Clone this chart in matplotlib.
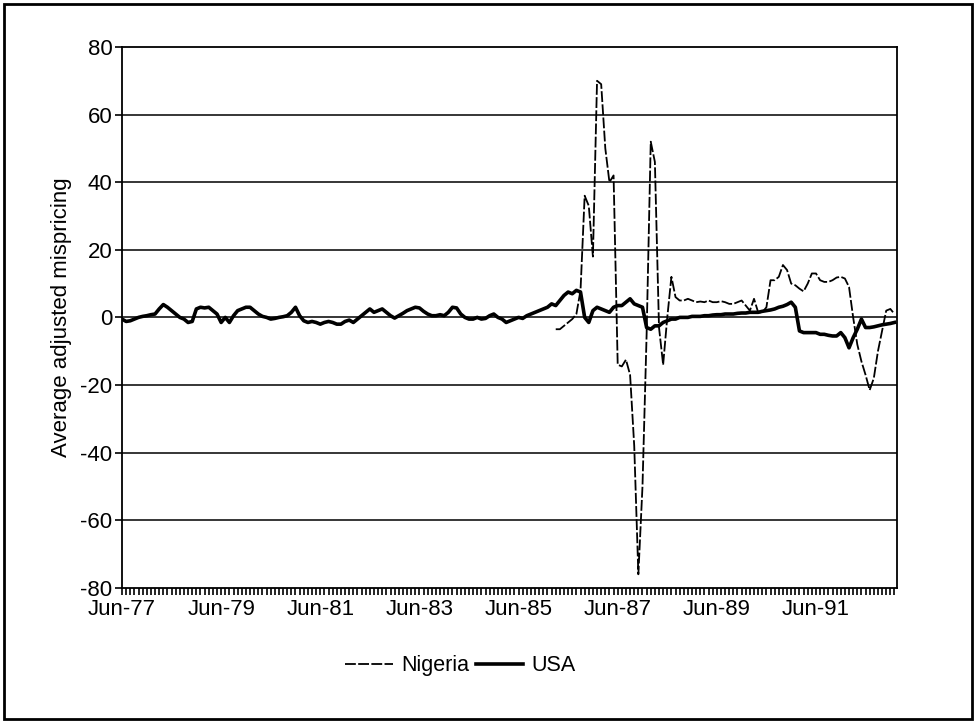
import numpy as np
import matplotlib.pyplot as plt
from matplotlib.ticker import MultipleLocator, FixedLocator
from matplotlib.patches import Rectangle

plt.rcParams['font.family'] = ['Liberation Sans', 'DejaVu Sans']

# monthly observations, Jun-77 .. Jan-93
tick_labels = ['Jun-77', 'Jun-79', 'Jun-81', 'Jun-83', 'Jun-85', 'Jun-87', 'Jun-89', 'Jun-91']
y_ticks = [-80, -60, -40, -20, 0, 20, 40, 60, 80]

usa = [
    -0.5, -1.2, -1, -0.5, 0, 0.3, 0.5, 0.8, 1, 2.5, 3.8, 3,
    2, 1, 0, -0.5, -1.5, -1.2, 2.5, 3, 2.8, 3, 2, 1,
    -1.5, 0, -1.5, 0.5, 2, 2.5, 3, 3, 2, 1, 0.3, 0,
    -0.5, -0.3, 0, 0.2, 0.5, 1.5, 3, 0.5, -1, -1.5, -1.2, -1.5,
    -2, -1.5, -1.2, -1.5, -2, -2, -1.2, -0.8, -1.5, -0.5, 0.5, 1.5,
    2.5, 1.5, 2, 2.5, 1.5, 0.5, -0.2, 0.5, 1.2, 2, 2.5, 3,
    2.8, 1.8, 1, 0.5, 0.5, 0.8, 0.5, 1.5, 3, 2.8, 1, 0,
    -0.5, -0.5, 0, -0.5, -0.3, 0.5, 1, 0, -0.5, -1.5, -1, -0.5,
    0, -0.3, 0.5, 1, 1.5, 2, 2.5, 3, 4, 3.5, 5, 6.5,
    7.5, 7, 8, 7.5, 0, -1.5, 2, 3, 2.5, 2, 1.5, 3,
    3.5, 3.5, 4.5, 5.5, 4, 3.5, 3, -3, -3.5, -2.5, -2.5, -1.5,
    -1, -0.5, -0.5, 0, 0, 0, 0.3, 0.3, 0.3, 0.5, 0.5, 0.7,
    0.8, 0.8, 1, 1, 1, 1.2, 1.3, 1.3, 1.5, 1.5, 1.5, 1.8,
    2, 2.2, 2.5, 3, 3.3, 3.8, 4.5, 3, -4, -4.5, -4.5, -4.5,
    -4.5, -5, -5, -5.3, -5.5, -5.5, -4.5, -6, -9, -6, -3.5, -0.5,
    -3, -3, -2.8, -2.5, -2.2, -2, -1.8, -1.5,
]

# Nigeria series begins in month 105 (Mar-86)
nigeria_start = 105
nigeria = [
    -3.5, -3.5, -2.5, -1.5, -0.5, 1, 8,
    36, 33, 18, 70, 69, 50, 40, 42,
    -14, -14.5, -12.5, -17, -38, -76, -50, -5,
    52, 46, -3, -14, 0, 12, 6, 5,
    5, 5.5, 5, 4.5, 4.7, 4.5, 5, 4.5,
    4.5, 4.8, 4.5, 4, 4, 4.5, 5, 3.5,
    2, 5.5, 1.5, 1.5, 3, 11, 11, 12,
    15.5, 14, 10, 9.5, 8.5, 7.7, 10, 13,
    13, 11, 10.5, 10.5, 11, 11.8, 12, 11.5,
    9, 0, -8, -13, -17, -21.5, -18, -10,
    -4, 2, 2.5, 1,
]

months = np.arange(len(usa))
nig_x = np.arange(nigeria_start, nigeria_start + len(nigeria))

fig = plt.figure(figsize=(9.76, 7.23), dpi=100)
ax = fig.add_axes([0.125, 0.187, 0.794, 0.748])

for y in y_ticks[1:-1]:
    ax.axhline(y, color='black', lw=1.1, zorder=1)

ax.plot(nig_x, nigeria, color='black', lw=1.3, dashes=(6, 1.3), label='Nigeria', zorder=3)
ax.plot(months, usa, color='black', lw=2.6, label='USA', zorder=2)

ax.set_xlim(0, 187.6)
ax.set_ylim(-80, 80)
ax.set_yticks(y_ticks)
ax.set_yticklabels([str(v) for v in y_ticks])
ax.xaxis.set_major_locator(FixedLocator(np.arange(0, len(usa), 24)))
ax.xaxis.set_minor_locator(MultipleLocator(1))
ax.set_xticklabels(tick_labels)
ax.tick_params(axis='x', which='both', direction='out', length=5, width=1.2, labelsize=16, pad=3)
ax.tick_params(axis='y', direction='out', length=5, width=1.2, labelsize=16, pad=2)
for s in ax.spines.values():
    s.set_linewidth(1.3)

ax.set_ylabel('Average adjusted mispricing', fontsize=16, labelpad=6)

fig.legend(loc='center', bbox_to_anchor=(0.472, 0.079), ncol=2, frameon=False,
           fontsize=15.5, handlelength=2.2, handletextpad=0.4, columnspacing=0.3)

fig.patches.append(Rectangle((0.004, 0.005), 0.992, 0.99, transform=fig.transFigure,
                             fill=False, edgecolor='black', lw=2))

fig.savefig('out.png', dpi=100)
